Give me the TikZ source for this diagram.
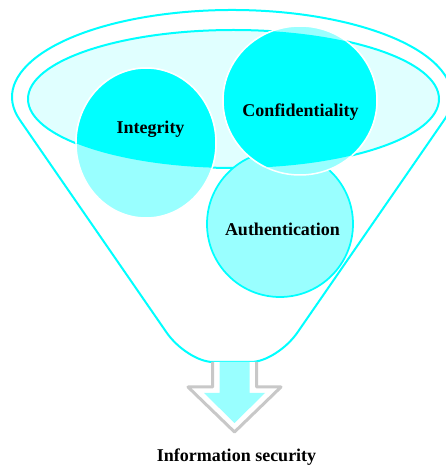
\documentclass[tikz,border=0pt]{standalone}
\usepackage{fontspec}
\setmainfont{Liberation Serif}
\definecolor{aqua}{RGB}{0,255,255}
\definecolor{aqualight}{RGB}{153,255,255}
\definecolor{aquapale}{RGB}{224,255,255}
\definecolor{arrowgray}{RGB}{200,200,200}
\begin{document}
\begin{tikzpicture}[x=1pt, y=1pt, line join=round,
  rim/.style={draw=aqua, line width=2pt},
  ball/.style={draw=white, line width=1.5pt, fill=aqualight},
  word/.style={font=\fontsize{18}{20}\selectfont\bfseries, anchor=base}]
\useasboundingbox (0,0) rectangle (446,466);
% funnel body
\draw[rim, fill=white] (19.8,346.1)
  arc[start angle=195.26, end angle=-15.26, x radius=220, y radius=87]
  -- (297.5,133.6) .. controls (286.3,117.3) and (265.4,104) .. (251.1,104)
  -- (212.9,104) .. controls (198.6,104) and (177.7,117.3) .. (166.5,133.6)
  -- cycle;
% opening of the funnel
\draw[rim, fill=aquapale] (233.5,367) ellipse[x radius=205.5, y radius=69];
% the three balls
\draw[rim, line width=1.75pt, fill=aqualight] (280,242) circle[radius=73];
\draw[ball] (146,323) ellipse[x radius=70, y radius=75];
\draw[ball] (300,365.5) ellipse[x radius=77, y radius=74.5];
\begin{scope}
  \clip (233.5,367) ellipse[x radius=205.5, y radius=69];
  \draw[ball, fill=aqua] (146,323) ellipse[x radius=70, y radius=75];
  \draw[ball, fill=aqua] (300,365.5) ellipse[x radius=77, y radius=74.5];
\end{scope}
% arrow out of the funnel
\draw[arrowgray, line width=3pt, fill=white] (212.5,104) -- (212.5,79) -- (188,79)
  -- (234.5,34) -- (281,79) -- (256.5,79) -- (256.5,104);
\fill[aqualight] (219.5,104) -- (219.5,73) -- (204,73) -- (234.5,43)
  -- (265,73) -- (249.5,73) -- (249.5,104) -- cycle;
\node[word] (integ) at (150.5,332) {Integrity};
\node[word] (conf) at (300.5,349) {Confidentiality};
\node[word] (auth) at (282.5,230) {Authentication};
\node[word] (infosec) at (236.5,4.5) {Information security};
\end{tikzpicture}
\end{document}
